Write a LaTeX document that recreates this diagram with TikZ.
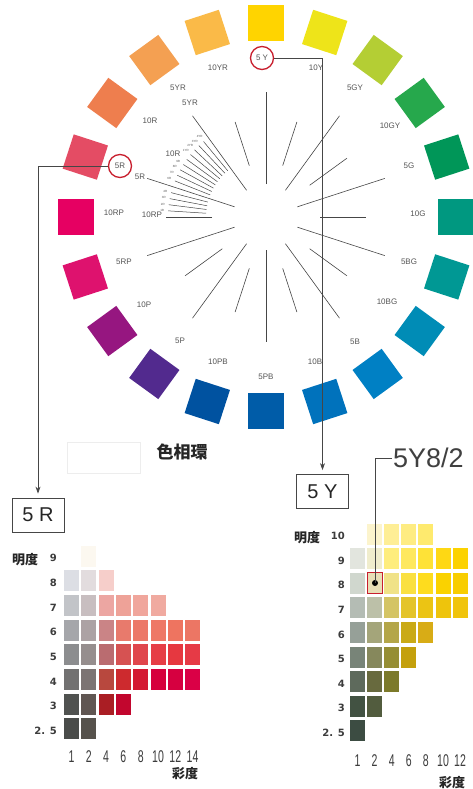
\documentclass[tikz,border=0pt]{standalone}
\usepackage{fontspec}
\setmainfont{Liberation Sans}
\newfontfamily\cjk{Noto Sans CJK JP}
\newfontfamily\dejab{DejaVu Sans}
\usetikzlibrary{arrows.meta}
\definecolor{lbl}{RGB}{85,85,85}
\definecolor{lin}{RGB}{70,70,70}
\definecolor{ringred}{RGB}{200,30,45}
\definecolor{num}{RGB}{60,60,60}
\tikzset{
  sq/.style={minimum size=36pt, inner sep=0pt, outer sep=0pt},
  hl/.style={font=\fontsize{8}{8}\selectfont, text=lbl, inner sep=0pt},
  tiny/.style={font=\fontsize{3}{3}\selectfont, text=lbl, inner sep=0pt},
  rad/.style={draw=lin, line width=0.6pt},
  ring/.style={circle, draw=ringred, line width=1.3pt, minimum size=23pt, inner sep=0pt},
  conn/.style={draw=lin, line width=0.8pt, -{Stealth[length=7pt,width=5pt]}, shorten >=4pt},
  boxn/.style={draw=lin, line width=0.8pt, minimum width=52pt, minimum height=34pt, inner sep=0pt, font=\fontsize{20}{20}\selectfont, text=black!85},
  cell/.style={minimum width=15pt, minimum height=21pt, inner sep=0pt, outer sep=0pt},
  vnum/.style={font=\dejab\bfseries\fontsize{10}{10}\selectfont, text=num, inner sep=0pt, anchor=east},
  cnum/.style={font=\fontsize{17}{17}\selectfont, text=num, inner sep=0pt, xscale=0.62},
  cjkb/.style={font=\cjk\bfseries\fontsize{13}{13}\selectfont, text=black!85, inner sep=0pt}
}
\begin{document}
\begin{tikzpicture}[x=1pt,y=-1pt]
\useasboundingbox (0,0) rectangle (472,789);
\fill[white] (0,0) rectangle (472,789);

% hue squares
\foreach \a/\n/\R/\G/\B in {90/5Y/255/212/0, 72/10Y/238/228/25, 54/5GY/180/206/52, 36/10GY/38/168/76,
  18/5G/0/150/88, 0/10G/0/152/128, -18/5BG/0/152/148, -36/10BG/0/140/182, -54/5B/0/128/196,
  -72/10B/0/114/188, -90/5PB/0/92/168, -108/10PB/0/82/160, -126/5P/82/42/142, -144/10P/150/22/128,
  -162/5RP/222/18/110, 180/10RP/230/0/98, 162/5R/228/76/100, 144/10R/238/126/78, 126/5YR/244/160/82,
  108/10YR/250/186/72}{
  \node[sq, fill={rgb,255:red,\R;green,\G;blue,\B}, rotate=\a] (sq\n) at ({266+190*cos(\a)},{217-194*sin(\a)}) {};
}

% radial lines: 5-hues
\foreach \a in {90,54,18,-18,-54,-90,-126,-162,162,126}{
  \draw[rad] ({266+33*cos(\a)},{217-33*sin(\a)}) -- ({266+125*cos(\a)},{217-125*sin(\a)});
}
% radial lines: 10-hues
\foreach \a in {72,36,0,-36,-72,-108,-144,180,108}{
  \draw[rad] ({266+54*cos(\a)},{217-54*sin(\a)}) -- ({266+100*cos(\a)},{217-100*sin(\a)});
}
% fan of subdivisions
\foreach \a in {129.6,133.2,136.8,140.4,144,147.6,151.2,154.8,158.4,165.6,169.2,172.8,176.4}{
  \draw[draw=lin, line width=0.5pt] ({266+60*cos(\a)},{217-60*sin(\a)}) -- ({266+98*cos(\a)},{217-98*sin(\a)});
}
\foreach \a/\t in {129.6/4YR, 133.2/3YR, 136.8/2YR, 140.4/1YR, 147.6/9R, 151.2/8R, 154.8/7R, 158.4/6R,
  165.6/4R, 169.2/3R, 172.8/2R, 176.4/1R}{
  \node[tiny] (f\t) at ({266+104*cos(\a)},{217-104*sin(\a)}) {\t};
}

% outer hue labels
\foreach \n/\x/\y in {10YR/218/68, 5YR/178/88, 10R/150/121, 10RP/114/213, 5RP/124/262, 10P/144/305,
  5P/180/341, 10PB/218/362, 5PB/266/377, 10B/315/362, 5B/355/342, 10BG/387/302, 5BG/409/262,
  10G/418/214, 5G/409/166, 10GY/390/126, 5GY/355/88, 10Y/316/68}{
  \node[hl] (ol\n) at (\x,\y) {\n};
}
% inner labels
\node[hl] (il5YR) at (190,103) {5YR};
\node[hl] (il10R) at (173,154) {10R};
\node[hl] (il5R) at (140,177) {5R};
\node[hl] (il10RP) at (152,215) {10RP};

% circled labels
\node[hl] (t5Y) at (262,58) {5 Y};
\node[ring] (c5Y) at (262,58) {};
\node[hl] (t5R) at (120,166) {5R};
\node[ring] (c5R) at (120,166) {};

% boxes
\node[boxn] (b5R) at (38,515) {5 R};
\node[boxn] (b5Y) at (322.5,491.5) {5 Y};

% connectors
\draw[conn] (c5Y.east) -| (b5Y.north);
\draw[conn] (c5R.west) -| (b5R.north);

% title
\node[draw=black!7, line width=0.6pt, minimum width=73pt, minimum height=31pt, inner sep=0pt] (fr) at (103.5,457.5) {};
\node[font=\cjk\bfseries\fontsize{17}{17}\selectfont, text=black!85, inner sep=0pt] (ttl) at (182,452) {色相環};

% ===== 5R chart =====
\foreach \k/\i/\R/\G/\B in {
 2/0/252/248/240,
 1/1/220/222/228, 2/1/226/220/222, 3/1/246/206/202,
 1/2/194/196/200, 2/2/200/190/192, 3/2/236/166/162, 4/2/238/162/152, 5/2/240/166/156, 6/2/240/170/160,
 1/3/165/166/170, 2/3/172/162/164, 3/3/202/132/134, 4/3/232/122/108, 5/3/236/120/104, 6/3/238/120/102, 7/3/238/116/96, 8/3/236/118/100,
 1/4/140/141/143, 2/4/150/142/142, 3/4/186/108/112, 4/4/214/82/82, 5/4/224/70/76, 6/4/230/62/70, 7/4/230/56/64, 8/4/230/58/70,
 1/5/114/113/113, 2/5/124/116/115, 3/5/184/72/62, 4/5/205/42/46, 5/5/212/26/50, 6/5/214/0/60, 7/5/214/0/64, 8/5/218/0/70,
 1/6/80/82/80, 2/6/96/86/82, 3/6/170/30/36, 4/6/194/6/46,
 1/7/74/76/74, 2/7/86/82/76}{
  \node[cell, fill={rgb,255:red,\R;green,\G;blue,\B}] (r\k-\i) at ({71.5+17.3*(\k-1)},{556+24.7*\i}) {};
}
\foreach \v/\i in {9/0, 8/1, 7/2, 6/3, 5/4, 4/5, 3/6, {2. 5}/7}{
  \node[vnum] (rv\i) at (57,{558+24.7*\i}) {\v};
}
\node[cjkb, anchor=west] (rmd) at (12,560) {明度};
\foreach \c/\k in {1/1, 2/2, 4/3, 6/4, 8/5, 10/6, 12/7, 14/8}{
  \node[cnum] (rc\k) at ({71.5+17.3*(\k-1)},757) {\c};
}
\node[cjkb] (rsd) at (185,774) {彩度};

% ===== 5Y chart =====
\foreach \k/\i/\R/\G/\B in {
 2/0/252/244/205, 3/0/254/238/150, 4/0/254/236/130, 5/0/254/234/110,
 1/1/226/229/222, 2/1/240/237/205, 3/1/254/237/125, 4/1/254/232/95, 5/1/254/226/55, 6/1/254/216/20, 7/1/252/210/0,
 1/2/208/215/206, 3/2/240/226/135, 4/2/250/224/65, 5/2/254/220/30, 6/2/250/210/0, 7/2/248/205/0,
 1/3/180/188/180, 2/3/188/192/168, 3/3/212/196/100, 4/3/228/196/42, 5/3/235/196/20, 6/3/238/196/12, 7/3/240/196/12,
 1/4/150/160/152, 2/4/164/165/122, 3/4/180/166/72, 4/4/202/170/22, 5/4/216/172/22,
 1/5/120/132/120, 2/5/134/136/92, 3/5/150/142/52, 4/5/196/160/12,
 1/6/94/106/92, 2/6/104/106/62, 3/6/124/122/42,
 1/7/66/82/66, 2/7/82/92/62,
 1/8/60/76/66}{
  \node[cell, fill={rgb,255:red,\R;green,\G;blue,\B}] (y\k-\i) at ({357.5+17.1*(\k-1)},{534+24.6*\i}) {};
}
\node[cell, fill={rgb,255:red,232;green,222;blue,182}, draw=ringred, line width=1.2pt] (y82) at (374.6,583.2) {};
\node[circle, fill=black, inner sep=0pt, minimum size=6pt] (dot) at (375,583) {};
\foreach \v/\i in {10/0, 9/1, 8/2, 7/3, 6/4, 5/5, 4/6, 3/7, {2. 5}/8}{
  \node[vnum] (yv\i) at (345,{536+24.6*\i}) {\v};
}
\node[cjkb, anchor=west] (ymd) at (294,538) {明度};
\foreach \c/\k in {1/1, 2/2, 4/3, 6/4, 8/5, 10/6, 12/7}{
  \node[cnum] (yc\k) at ({357.5+17.1*(\k-1)},761) {\c};
}
\node[cjkb] (ysd) at (452,783) {彩度};

% 5Y8/2 callout
\node[font=\fontsize{27}{27}\selectfont, text=black!75, inner sep=1pt, anchor=west] (t582) at (392,458) {5Y8/2};
\draw[draw=lin, line width=0.7pt] (t582.west) -| (dot.center);
\end{tikzpicture}
\end{document}
